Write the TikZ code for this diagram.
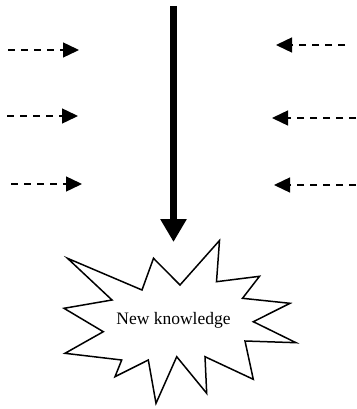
\documentclass[tikz,border=0pt]{standalone}
\usepackage{fontspec}
\setmainfont{Liberation Serif}
\usetikzlibrary{arrows.meta}
\begin{document}
\begin{tikzpicture}[x=1pt,y=-1pt,
  inflow/.style={line width=1.4pt, dash pattern=on 7pt off 6pt, -{Triangle[length=16pt 0,width=15pt 0]}},
  mainflow/.style={line width=7pt, -{Triangle[length=23pt 0,width=25pt 0]}},
  burst/.style={draw=black, line width=1.5pt, fill=white, line join=miter},
  label/.style={font=\fontsize{17.5}{20}\selectfont, inner sep=0pt}]
\useasboundingbox (0,0) rectangle (356,409);
% main arrow
\coordinate (top) at (173.5,6);
\coordinate (bottom) at (173.5,242);
\draw[mainflow] (top) -- (bottom);
% left inflows
\coordinate (l1s) at (8,50);  \coordinate (l1e) at (79,50);
\coordinate (l2s) at (7,116); \coordinate (l2e) at (78,116);
\coordinate (l3s) at (11,184); \coordinate (l3e) at (82,184);
\draw[inflow] (l1s) -- (l1e);
\draw[inflow] (l2s) -- (l2e);
\draw[inflow] (l3s) -- (l3e);
% right inflows
\coordinate (r1s) at (345,45);  \coordinate (r1e) at (276,45);
\coordinate (r2s) at (356,118); \coordinate (r2e) at (272,118);
\coordinate (r3s) at (356,185); \coordinate (r3e) at (274,185);
\draw[inflow] (r1s) -- (r1e);
\draw[inflow] (r2s) -- (r2e);
\draw[inflow] (r3s) -- (r3e);
% burst
\draw[burst] (67.5,258.3) -- (142,290) -- (153.5,258.3) -- (180,285) -- (219.5,240.5)
  -- (216.5,281.7) -- (259.5,276.3) -- (242.5,298.3) -- (290,303.3) -- (253.3,321.7)
  -- (296,342.7) -- (245,341) -- (253.3,379.3) -- (205,356.7) -- (206.7,393.3)
  -- (176.7,356.7) -- (156,403.3) -- (148.3,360) -- (115,376.7) -- (121.7,360)
  -- (65,353.3) -- (103.3,331.7) -- (64,308.3) -- (112,300) -- cycle;
\node[label] (nk) at (173.5,320) {New knowledge};
\end{tikzpicture}
\end{document}
